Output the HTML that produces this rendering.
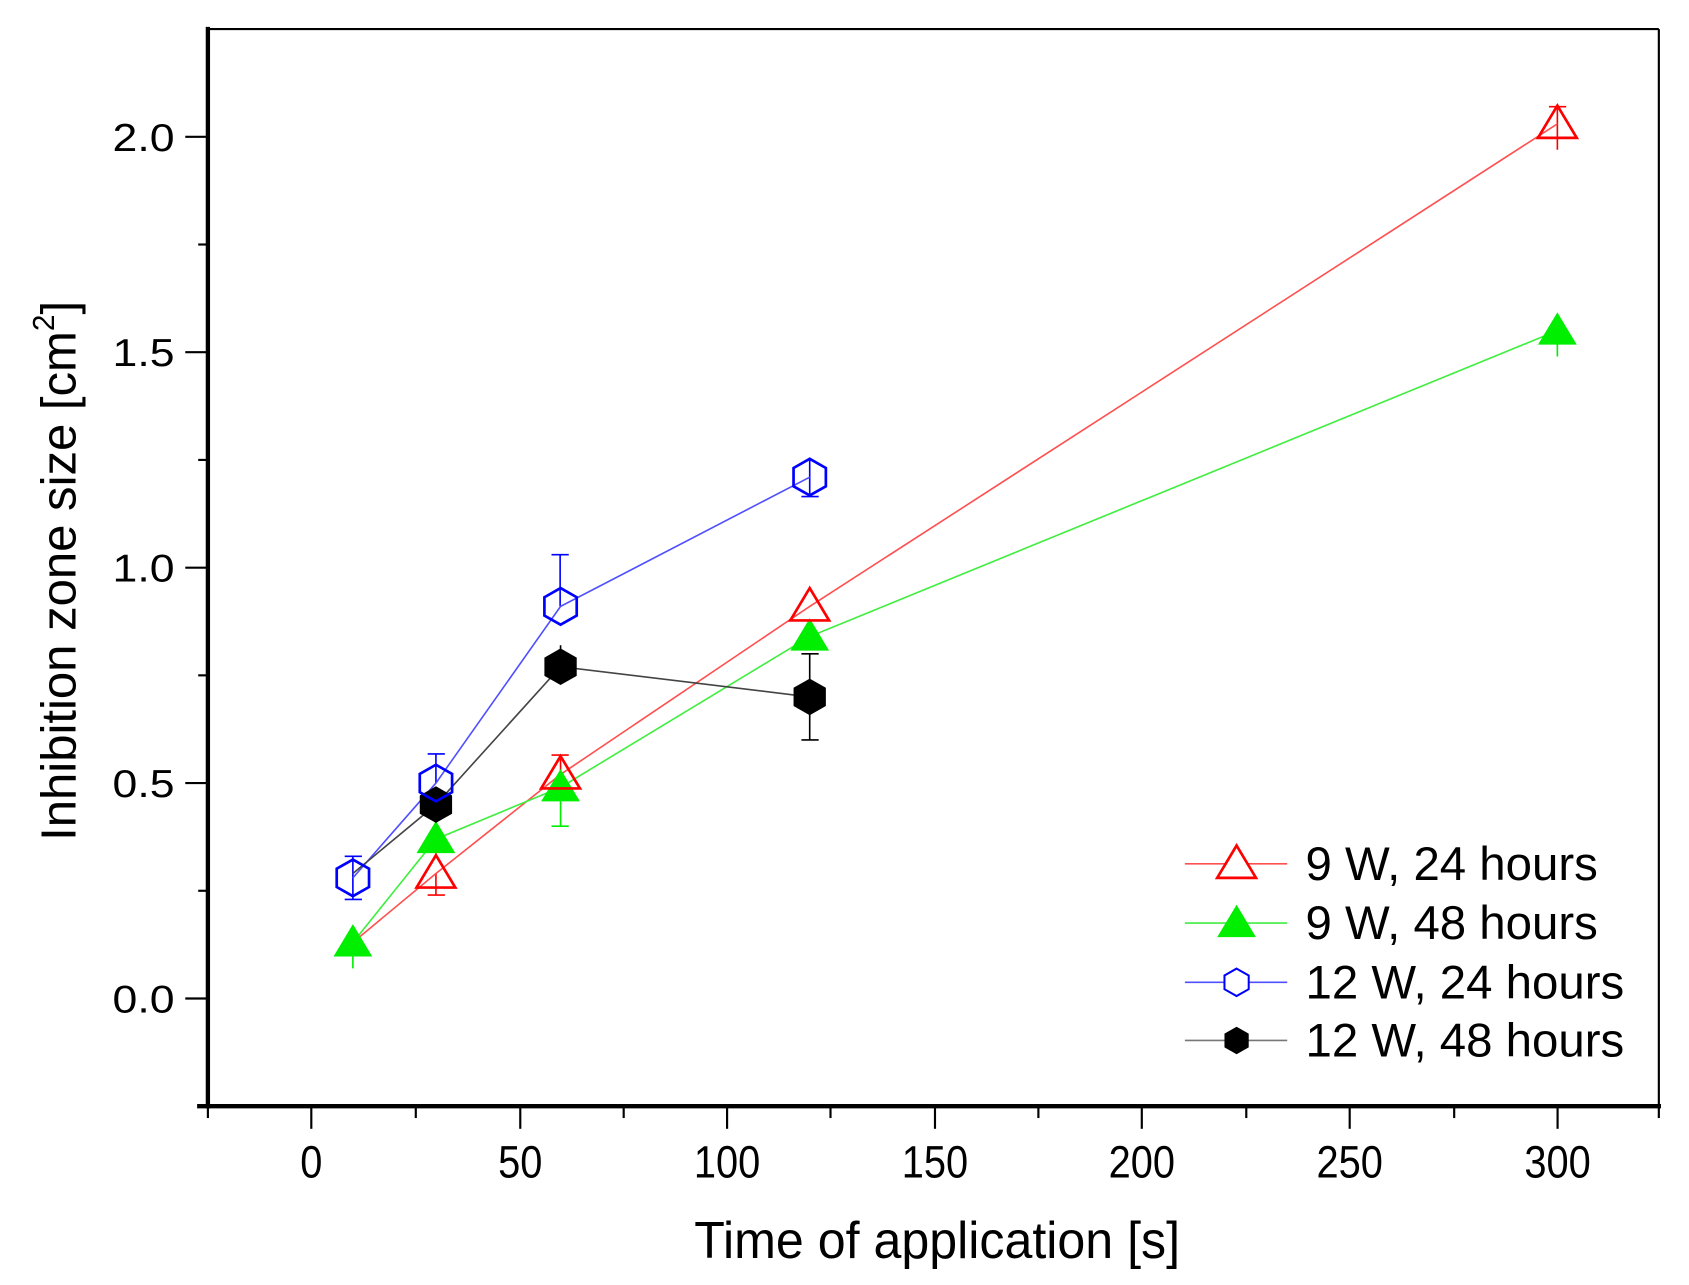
<!DOCTYPE html>
<html><head><style>html,body{margin:0;padding:0;background:#fff}svg{display:block}</style></head><body>
<svg width="1689" height="1285" viewBox="0 0 1568 1193" preserveAspectRatio="none" xmlns="http://www.w3.org/2000/svg" font-family="Liberation Sans, sans-serif">
<defs>
<polygon id="tri" points="0,-17 18,13 -18,13"/>
<polygon id="hex" points="0,-17 15,-8.5 15,8.5 0,17 -15,8.5 -15,-8.5"/>
</defs>
<rect width="1568" height="1193" fill="#fff"/>
<line x1="193" y1="27" x2="1540" y2="27" stroke="#000" stroke-width="2"/>
<line x1="1540" y1="27" x2="1540" y2="1027" stroke="#000" stroke-width="2"/>
<line x1="193" y1="25" x2="193" y2="1029" stroke="#000" stroke-width="4"/>
<line x1="183" y1="1027" x2="1542" y2="1027" stroke="#000" stroke-width="4"/>
<g stroke="#000" stroke-width="2">
<line x1="289" y1="1027" x2="289" y2="1048"/><line x1="483" y1="1027" x2="483" y2="1048"/><line x1="675" y1="1027" x2="675" y2="1048"/><line x1="868" y1="1027" x2="868" y2="1048"/><line x1="1060" y1="1027" x2="1060" y2="1048"/><line x1="1253" y1="1027" x2="1253" y2="1048"/><line x1="1446" y1="1027" x2="1446" y2="1048"/>
<line x1="193" y1="1027" x2="193" y2="1038"/><line x1="386" y1="1027" x2="386" y2="1038"/><line x1="579" y1="1027" x2="579" y2="1038"/><line x1="771" y1="1027" x2="771" y2="1038"/><line x1="964" y1="1027" x2="964" y2="1038"/><line x1="1157" y1="1027" x2="1157" y2="1038"/><line x1="1350" y1="1027" x2="1350" y2="1038"/><line x1="1540" y1="1027" x2="1540" y2="1038"/>
<line x1="172" y1="127" x2="193" y2="127"/><line x1="172" y1="327" x2="193" y2="327"/><line x1="172" y1="527" x2="193" y2="527"/><line x1="172" y1="727" x2="193" y2="727"/><line x1="172" y1="927" x2="193" y2="927"/>
<line x1="184" y1="227" x2="193" y2="227"/><line x1="184" y1="427" x2="193" y2="427"/><line x1="184" y1="627" x2="193" y2="627"/><line x1="184" y1="827" x2="193" y2="827"/>
</g>
<g font-size="36" fill="#000" text-anchor="end">
<text x="162" y="140" transform="translate(162 0) scale(1.15 1) translate(-162 0)">2.0</text>
<text x="162" y="340" transform="translate(162 0) scale(1.15 1) translate(-162 0)">1.5</text>
<text x="162" y="540" transform="translate(162 0) scale(1.15 1) translate(-162 0)">1.0</text>
<text x="162" y="740" transform="translate(162 0) scale(1.15 1) translate(-162 0)">0.5</text>
<text x="162" y="940" transform="translate(162 0) scale(1.15 1) translate(-162 0)">0.0</text>
</g>
<g font-size="42" fill="#000" text-anchor="middle">
<text x="289" y="1093" transform="translate(289 0) scale(0.88 1) translate(-289 0)">0</text>
<text x="483" y="1093" transform="translate(483 0) scale(0.88 1) translate(-483 0)">50</text>
<text x="675" y="1093" transform="translate(675 0) scale(0.88 1) translate(-675 0)">100</text>
<text x="868" y="1093" transform="translate(868 0) scale(0.88 1) translate(-868 0)">150</text>
<text x="1060" y="1093" transform="translate(1060 0) scale(0.88 1) translate(-1060 0)">200</text>
<text x="1253" y="1093" transform="translate(1253 0) scale(0.88 1) translate(-1253 0)">250</text>
<text x="1446" y="1093" transform="translate(1446 0) scale(0.88 1) translate(-1446 0)">300</text>
</g>
<text x="870" y="1168" font-size="48" text-anchor="middle" transform="translate(870 0) scale(0.97 1) translate(-870 0)">Time of application [s]</text>
<text transform="translate(70 530) rotate(-90) scale(0.99 1)" font-size="46" text-anchor="middle">Inhibition zone size [cm<tspan dy="-20" font-size="28">2</tspan><tspan dy="20">]</tspan></text>
<g stroke-width="1.5" fill="none">
<g stroke="#0000ff"><path d="M520 563V515M512 515h16M404.7 727V700M397 700h16M327.6 815V795M320 795h16M327.6 815V835M320 835h16M751.7 443V461M744 461h16M751.7 443V425"/></g>
<g stroke="#000"><path d="M751.7 647V687M744 687h16M751.7 647V607M744 607h16M520.4 619V599"/></g>
<g stroke="#00ee00"><path d="M520.4 731V767M512 767h16M1445.8 307V331M327.6 875V899M404.7 779V795"/></g>
<g stroke="#ff0000"><path d="M1445.8 115V139M1445.8 115V99M1438 99h16M404.7 811V831M397 831h16M520.4 719V701M512 701h16"/></g>
</g>
<polyline points="327.6,875 404.7,811 520.4,719 751.7,563 1445.8,115" fill="none" stroke="#ff5050" stroke-width="1.5"/>
<polyline points="327.6,875 404.7,779 520.4,731 751.7,591 1445.8,307" fill="none" stroke="#40ee40" stroke-width="1.5"/>
<polyline points="327.6,815 404.7,727 520.4,563 751.7,443" fill="none" stroke="#5050ff" stroke-width="1.5"/>
<polyline points="327.6,811 404.7,747 520.4,619 751.7,647" fill="none" stroke="#444" stroke-width="1.5"/>
<g fill="#00ee00"><use href="#tri" x="327.6" y="875"/><use href="#tri" x="404.7" y="779"/><use href="#tri" x="520.4" y="731"/><use href="#tri" x="751.7" y="591"/><use href="#tri" x="1445.8" y="307"/></g>
<g fill="none" stroke="#ff0000" stroke-width="2.5"><use href="#tri" x="404.7" y="811"/><use href="#tri" x="520.4" y="719"/><use href="#tri" x="751.7" y="563"/><use href="#tri" x="1445.8" y="115"/></g>
<g fill="#000"><use href="#hex" x="404.7" y="747"/><use href="#hex" x="520.4" y="619"/><use href="#hex" x="751.7" y="647"/></g>
<g fill="none" stroke="#0000ff" stroke-width="2.5"><use href="#hex" x="327.6" y="815"/><use href="#hex" x="404.7" y="727"/><use href="#hex" x="520.4" y="563"/><use href="#hex" x="751.7" y="443"/></g>
<line x1="1100" y1="802" x2="1195" y2="802" stroke="#ff5050" stroke-width="1.5"/>
<use href="#tri" x="1148" y="802" fill="#fff" stroke="#ff0000" stroke-width="2.5"/>
<line x1="1100" y1="857" x2="1195" y2="857" stroke="#40ee40" stroke-width="1.5"/>
<use href="#tri" x="1148" y="857" fill="#00ee00"/>
<line x1="1100" y1="912" x2="1195" y2="912" stroke="#5050ff" stroke-width="1.5"/>
<use href="#hex" x="1148" y="912" fill="#fff" stroke="#0000ff" stroke-width="2.5" transform="translate(1148 912) scale(0.75) translate(-1148 -912)"/>
<line x1="1100" y1="966" x2="1195" y2="966" stroke="#777" stroke-width="1.5"/>
<use href="#hex" x="1148" y="966" fill="#000" transform="translate(1148 966) scale(0.75) translate(-1148 -966)"/>
<g font-size="44" fill="#000">
<text x="1212" y="817">9 W, 24 hours</text>
<text x="1212" y="872">9 W, 48 hours</text>
<text x="1212" y="927">12 W, 24 hours</text>
<text x="1212" y="981">12 W, 48 hours</text>
</g>
</svg>
</body></html>
